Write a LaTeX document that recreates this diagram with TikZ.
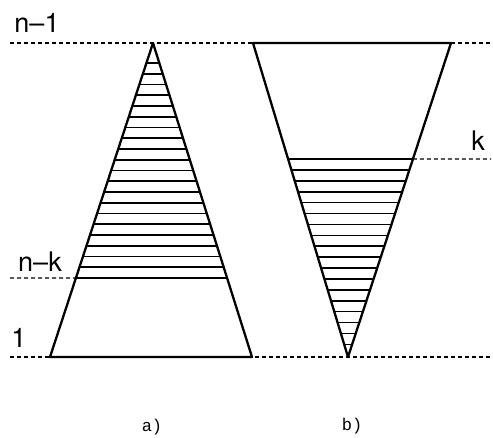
\documentclass[tikz,border=0pt]{standalone}
\usepackage{fontspec}
\setmainfont{TeX Gyre Heros}
\newfontfamily\labelmono{Liberation Mono}
\usetikzlibrary{calc}

\begin{document}
\begin{tikzpicture}[
  x=1pt, y=-1pt,
  edge/.style={line width=2.3pt, line join=round},
  hatch/.style={line width=1.6pt},
  dashline/.style={line width=1.2pt, dash pattern=on 4pt off 3pt},
  lbl/.style={font=\fontsize{27}{27}\selectfont, inner sep=0pt},
  sublbl/.style={font=\labelmono\fontsize{17}{17}\selectfont, inner sep=0pt}
]
\useasboundingbox (0,0) rectangle (493,437);

% triangle a)
\coordinate (atop) at (153,43);
\coordinate (aleft) at (50,357);
\coordinate (aright) at (252,357);
% triangle b)
\coordinate (bleft) at (253,43);
\coordinate (bright) at (451,43);
\coordinate (btip) at (348,357);

\coordinate (nk) at ($(atop)!0.7484!(aleft)$);
\coordinate (nkr) at ($(atop)!0.7484!(aright)$);
\coordinate (kl) at ($(btip)!0.6306!(bleft)$);
\coordinate (kr) at ($(btip)!0.6306!(bright)$);

% levels
\draw[dashline] (10,43) -- (491,43);
\draw[dashline] (10,357) -- (491,357);
\draw[dashline] (10,278) -- (nk);
\draw[dashline] (kr) -- (491,159);

% hatching
\foreach \i in {0,...,19} {
  \pgfmathsetmacro\t{(20+\i*10.75)/314}
  \draw[hatch] ($(atop)!\t!(aleft)$) -- ($(atop)!\t!(aright)$);
}
\foreach \i in {1,...,17} {
  \pgfmathsetmacro\t{(198-\i*10.9)/314}
  \draw[hatch] ($(btip)!\t!(bleft)$) -- ($(btip)!\t!(bright)$);
}

\draw[edge] (atop) -- (aleft) -- (aright) -- cycle;
\draw[edge] (bleft) -- (bright) -- (btip) -- cycle;
\draw[edge] (nk) -- (nkr);
\draw[edge] (kl) -- (kr);

\node[lbl] (n1) at (37,23) {n–1};
\node[lbl] (nmk) at (40,262) {n–k};
\node[lbl] (one) at (19,338) {1};
\node[lbl] (k) at (478,141) {k};
\node[sublbl] (suba) at (152,427) {a)};
\node[sublbl] (subb) at (352,426) {b)};
\end{tikzpicture}
\end{document}
